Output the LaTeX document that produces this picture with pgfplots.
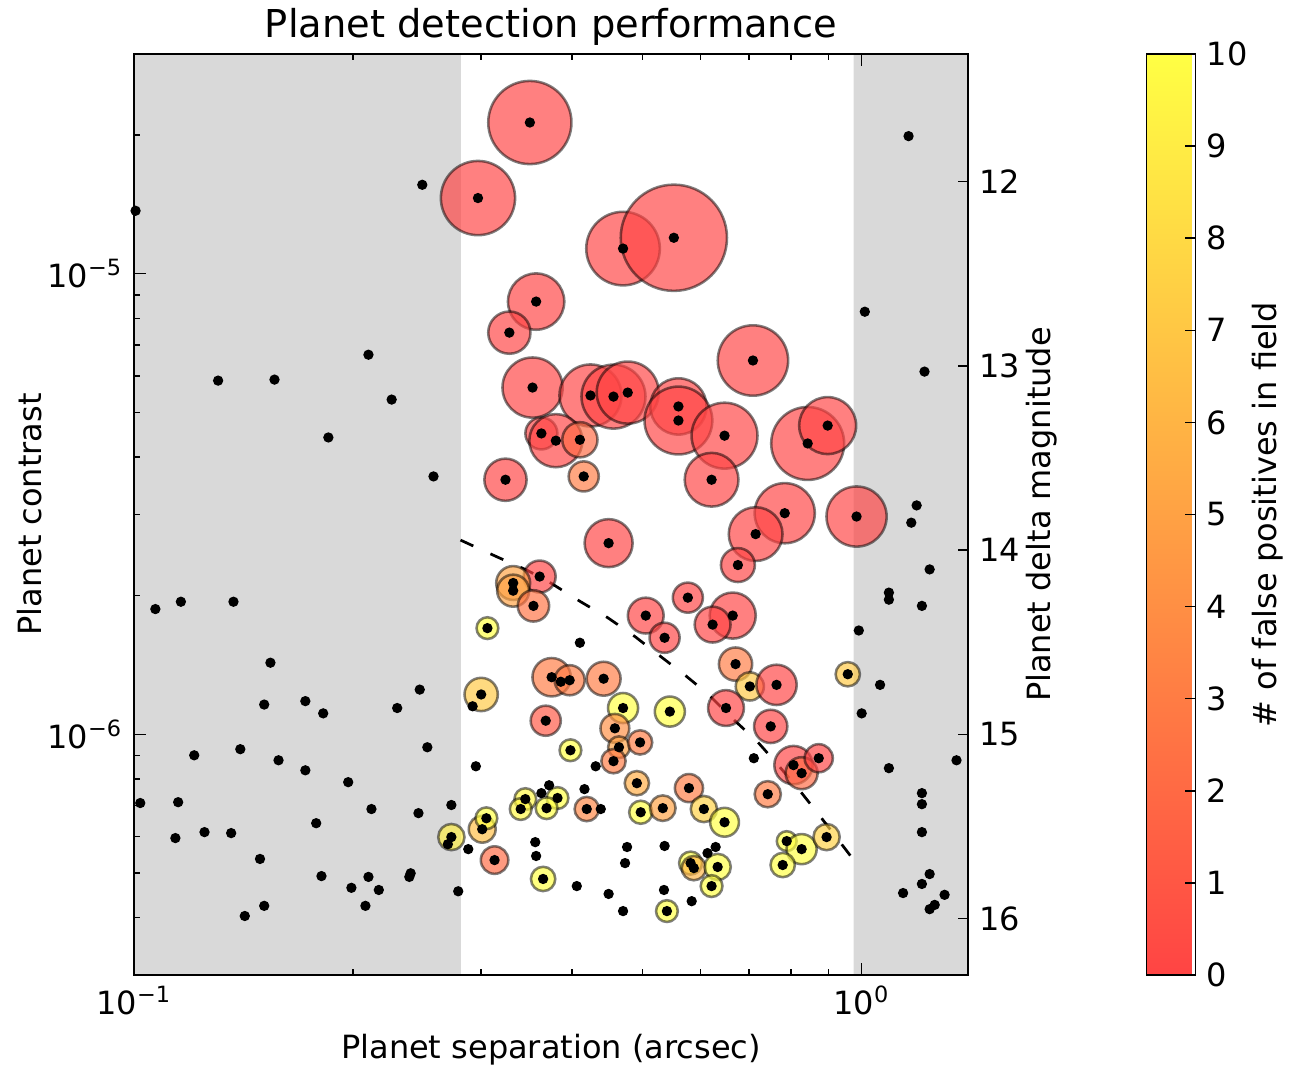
\documentclass[border=0pt]{standalone}
\usepackage{fontspec}
\setmainfont{DejaVu Sans}
\usepackage{pgfplots}
\usepackage{pgfplotstable}
\pgfplotsset{compat=1.18}
\definecolor{spangray}{HTML}{D9D9D9}
\newcommand{\lblfont}{\fontsize{10}{12}\selectfont}

% detected planets: separation, contrast, circle radius (pt), false positives
\pgfplotstableread{
x y r v
0.350 2.13e-5 13.0 0
0.297 1.46e-5 11.6 0
0.470 1.134e-5 11.5 0
0.552 1.197e-5 16.6 0
0.357 8.70e-6 8.8 0
0.328 7.45e-6 6.6 0
0.353 5.66e-6 9.4 0
0.424 5.44e-6 9.7 0
0.456 5.41e-6 10.0 0
0.477 5.52e-6 9.7 0
0.560 5.15e-6 8.8 0
0.560 4.80e-6 10.6 0
0.709 6.48e-6 11.0 0
0.648 4.45e-6 10.3 0
0.363 4.50e-6 5.0 0
0.380 4.34e-6 8.3 0
0.410 4.36e-6 5.5 2
0.415 3.63e-6 4.7 3
0.324 3.57e-6 6.6 0
0.622 3.57e-6 8.4 0
0.843 4.28e-6 11.4 0
0.898 4.68e-6 8.9 0
0.784 3.02e-6 9.4 0
0.715 2.72e-6 8.4 0
0.984 2.97e-6 9.4 0
0.449 2.60e-6 7.5 0
0.676 2.33e-6 5.3 0
0.577 1.98e-6 4.7 0
0.665 1.81e-6 7.2 0
0.624 1.73e-6 5.6 0
0.505 1.81e-6 5.6 0
0.536 1.62e-6 4.7 0
0.671 1.42e-6 5.2 3
0.702 1.27e-6 4.4 7
0.651 1.14e-6 5.6 0
0.764 1.28e-6 6.3 0
0.750 1.04e-6 5.2 0
0.957 1.35e-6 3.8 7
0.806 8.57e-7 6.0 0
0.827 8.23e-7 5.0 2
0.873 8.87e-7 4.4 0
0.743 7.41e-7 4.1 3
0.789 5.86e-7 3.1 10
0.827 5.63e-7 4.7 10
0.779 5.20e-7 3.8 10
0.895 5.98e-7 4.1 7.5
0.361 2.20e-6 5.0 0
0.332 2.13e-6 5.3 5
0.332 2.05e-6 5.0 5
0.354 1.90e-6 4.9 2.5
0.306 1.70e-6 3.4 10
0.300 1.22e-6 5.2 7
0.375 1.33e-6 6.0 3
0.397 1.31e-6 4.7 3
0.368 1.07e-6 4.7 1
0.442 1.32e-6 5.3 3
0.470 1.14e-6 4.7 10
0.545 1.12e-6 4.7 10
0.458 1.03e-6 4.5 4
0.464 9.37e-7 3.4 5
0.456 8.74e-7 3.8 3
0.496 9.60e-7 3.8 3
0.398 9.23e-7 3.4 10
0.491 7.83e-7 3.8 5.5
0.382 7.27e-7 3.4 10
0.345 7.23e-7 3.4 9.5
0.340 6.88e-7 3.4 9.5
0.369 6.91e-7 3.4 10
0.419 6.88e-7 3.8 3.5
0.497 6.77e-7 3.6 10
0.533 6.91e-7 4.0 5
0.579 7.64e-7 4.4 3
0.607 6.88e-7 4.1 7.5
0.648 6.44e-7 4.5 10
0.582 5.25e-7 3.6 10
0.588 5.12e-7 3.8 6
0.634 5.15e-7 4.1 10
0.622 4.68e-7 3.4 10
0.540 4.13e-7 3.4 10
0.365 4.85e-7 3.8 10
0.273 5.98e-7 4.1 9
0.301 6.22e-7 4.2 6.5
0.305 6.57e-7 3.4 10
0.313 5.33e-7 4.3 2
}\detected

% planets without a detection
\pgfplotstableread{
x y
0.1005 1.37e-5
0.249 1.56e-5
0.1305 5.86e-6
0.156 5.89e-6
0.210 6.67e-6
0.226 5.33e-6
0.185 4.41e-6
0.258 3.63e-6
0.107 1.87e-6
0.116 1.94e-6
0.137 1.94e-6
0.154 1.43e-6
0.151 1.16e-6
0.172 1.18e-6
0.182 1.11e-6
0.121 9.00e-7
0.140 9.28e-7
0.158 8.78e-7
0.172 8.35e-7
0.102 7.09e-7
0.115 7.12e-7
0.178 6.41e-7
0.114 5.95e-7
0.125 6.13e-7
0.136 6.10e-7
0.149 5.36e-7
0.181 4.92e-7
0.151 4.24e-7
0.142 4.03e-7
0.247 1.25e-6
0.230 1.14e-6
0.253 9.37e-7
0.197 7.87e-7
0.212 6.88e-7
0.246 6.74e-7
0.273 7.02e-7
0.199 4.64e-7
0.210 4.90e-7
0.217 4.59e-7
0.208 4.24e-7
0.239 4.90e-7
0.240 4.99e-7
0.279 4.56e-7
0.270 5.77e-7
1.16 1.99e-5
1.01 8.27e-6
1.22 6.13e-6
1.19 3.14e-6
1.17 2.88e-6
1.24 2.28e-6
1.09 2.03e-6
1.09 1.96e-6
1.21 1.90e-6
0.991 1.68e-6
1.06 1.28e-6
1.00 1.11e-6
1.35 8.78e-7
1.09 8.44e-7
1.21 7.45e-7
1.21 7.05e-7
1.21 6.13e-7
1.24 4.97e-7
1.21 4.73e-7
1.14 4.52e-7
1.30 4.48e-7
1.24 4.17e-7
1.26 4.26e-7
0.295 8.52e-7
0.288 5.63e-7
0.356 5.83e-7
0.357 5.44e-7
0.372 7.75e-7
0.363 7.45e-7
0.431 8.52e-7
0.416 7.60e-7
0.438 6.88e-7
0.711 8.87e-7
0.476 5.69e-7
0.473 5.25e-7
0.536 5.72e-7
0.406 4.68e-7
0.449 4.50e-7
0.470 4.13e-7
0.535 4.59e-7
0.584 4.34e-7
0.630 5.69e-7
0.614 5.52e-7
0.410 1.58e-6
0.386 1.30e-6
0.292 1.15e-6
}\undetected

% detection limit curve
\pgfplotstableread{
x y
0.281 2.64e-6
0.315 2.43e-6
0.347 2.27e-6
0.374 2.13e-6
0.411 1.94e-6
0.448 1.79e-6
0.488 1.63e-6
0.528 1.48e-6
0.573 1.34e-6
0.616 1.22e-6
0.661 1.09e-6
0.718 9.66e-7
0.764 8.65e-7
0.817 7.64e-7
0.870 6.74e-7
0.927 5.92e-7
0.978 5.30e-7
}\limitcurve

\pgfplotsset{/pgf/number format/assume math mode=true}

\begin{document}
\begin{tikzpicture}
\useasboundingbox (-41.875pt,-29.0625pt) rectangle (361.5625pt,304.6875pt);
\begin{axis}[
    at={(0pt,0pt)}, anchor=south west,
    scale only axis, width=260.625pt, height=287.8125pt,
    xmode=log, ymode=log,
    xmin=0.1, xmax=1.4, ymin=3e-7, ymax=3e-5,
    xtick={0.1,1}, xticklabels={10\textsuperscript{−1},10\textsuperscript{0}},
    minor xtick={0.2,0.3,0.4,0.5,0.6,0.7,0.8,0.9},
    ytick={1e-6,1e-5}, yticklabels={10\textsuperscript{−6},10\textsuperscript{−5}},
    minor ytick={4e-7,5e-7,6e-7,7e-7,8e-7,9e-7,2e-6,3e-6,4e-6,5e-6,6e-6,7e-6,8e-6,9e-6,2e-5},
    tick align=inside, xtick pos=both, ytick pos=left,
    major tick length=3.75pt, minor tick length=1.9pt,
    every tick/.append style={black, line width=0.45pt},
    axis line style={line width=0.65pt},
    tick label style={font=\lblfont},
    xlabel={Planet separation (arcsec)}, ylabel={Planet contrast},
    label style={font=\lblfont},
    xlabel style={at={(axis description cs:0.5,-0.091)}, anchor=base},
    ylabel style={at={(axis description cs:-0.125,0.5)}, anchor=center},
    title={Planet detection performance},
    every axis title shift=0pt,
    title style={at={(axis description cs:0.5,1.0174)}, anchor=base, font=\fontsize{12}{14.4}\selectfont},
    axis on top,
    colorbar,
    colormap={fpmap}{rgb255=(255,68,68) rgb255=(255,255,68)},
    point meta min=0, point meta max=10,
    colorbar style={
        at={(parent axis.north east)}, anchor=north west, xshift=47.2pt,
        scale only axis, width=15.3125pt, height=287.8125pt,
        ytick={0,1,...,10}, ytick pos=right, yticklabel pos=right,
        tick align=inside, major tick length=3.1pt,
        every tick/.append style={black, line width=0.45pt},
        axis line style={line width=0.5pt},
        tick label style={font=\lblfont},
        ylabel={\# of false positives in field},
        ylabel style={font=\lblfont, at={(axis description cs:2.47,0.5)}, anchor=center},
    },
]
\addplot[fill=spangray, draw=none, forget plot] coordinates {(0.1,3e-7) (0.2813,3e-7) (0.2813,3e-5) (0.1,3e-5) (0.1,3e-7)};
\addplot[fill=spangray, draw=none, forget plot] coordinates {(0.975,3e-7) (1.4,3e-7) (1.4,3e-5) (0.975,3e-5) (0.975,3e-7)};

\addplot[
    scatter, only marks, mark=*,
    point meta=explicit,
    scatter/use mapped color={draw=black, draw opacity=0.5, fill=mapped color, fill opacity=0.68},
    visualization depends on={\thisrow{r} \as \rad},
    scatter/@pre marker code/.append style={/tikz/mark size=\rad},
    mark options={line width=0.8pt},
] table[x=x, y=y, meta=v] {\detected};

\addplot[black, line width=0.85pt, dash pattern=on 4.4pt off 5.9pt] table[x=x, y=y] {\limitcurve};

\addplot[only marks, mark=*, mark size=1.4pt, black] table[x=x, y=y] {\detected};
\addplot[only marks, mark=*, mark size=1.4pt, black] table[x=x, y=y] {\undetected};
\end{axis}

\begin{axis}[
    at={(0pt,0pt)}, anchor=south west,
    scale only axis, width=260.625pt, height=287.8125pt,
    xmode=log, xmin=0.1, xmax=1.4,
    ymin=11.307, ymax=16.307, y dir=reverse,
    axis x line=none, axis y line*=right,
    ytick={12,13,14,15,16}, minor ytick={},
    tick align=inside, major tick length=3pt,
    every tick/.append style={black, line width=0.45pt},
    axis line style={line width=0.65pt},
    tick label style={font=\lblfont},
    ylabel={Planet delta magnitude},
    ylabel style={font=\lblfont, at={(axis description cs:1.0887,0.5)}, anchor=center},
]
\end{axis}
\end{tikzpicture}
\end{document}
